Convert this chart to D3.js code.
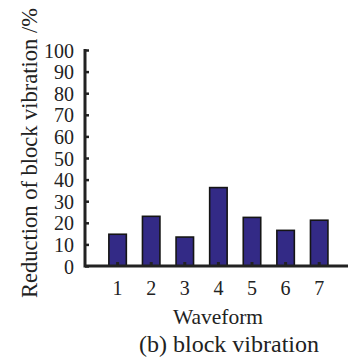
<!DOCTYPE html>
<html><head><meta charset="utf-8">
<script src="https://cdn.jsdelivr.net/npm/d3@7"></script>
<style>html,body{margin:0;padding:0;background:#fff;}svg{display:block;}</style>
</head><body>
<svg id="c" width="349" height="364"></svg>
<script>
const categories = ["1","2","3","4","5","6","7"];
const values = [14.7, 23.0, 13.4, 36.3, 22.5, 16.5, 21.2];
const yTicks = [0,10,20,30,40,50,60,70,80,90,100];
const xTitle = "Waveform";
const yTitle = "Reduction of block vibration /%";
const caption = "(b) block vibration";

const svg = d3.select("#c");
const font = "'Times New Roman', Times, Tinos, 'Nimbus Roman', 'Nimbus Roman No9 L', 'Liberation Serif', 'DejaVu Serif', 'Noto Serif', FreeSerif, 'Noto Serif CJK SC', serif";
const x0 = 85, xEnd = 348, yTop = 50, yBase = 266;

const x = d3.scaleBand().domain(categories).range([x0 - 1, x0 - 1 + 268.8]).paddingInner(0.48).paddingOuter(0.74);
const y = d3.scaleLinear().domain([0,100]).range([yBase, yTop]);

// bars
svg.append("g").selectAll("rect").data(values).join("rect")
  .attr("x", (d,i) => x(categories[i]))
  .attr("y", d => y(d))
  .attr("width", x.bandwidth())
  .attr("height", d => yBase - y(d))
  .attr("fill", "#332a86")
  .attr("stroke", "#151515")
  .attr("stroke-width", 1.6);

// y axis
const ya = svg.append("g").attr("transform", `translate(${x0},0)`)
  .call(d3.axisLeft(y).tickValues(yTicks).tickSize(-4).tickPadding(11).tickFormat(d3.format("d")));
ya.attr("font-family", null);
ya.select(".domain").remove();
ya.selectAll(".tick line").attr("stroke", "#222").attr("stroke-width", 2.5);
ya.selectAll("text").style("font-family", font).attr("font-size", 20).attr("fill", "#222").attr("dy", "0.35em");

// x axis
const xa = svg.append("g").attr("transform", `translate(0,${yBase})`)
  .call(d3.axisBottom(x).tickSize(-4).tickPadding(15));
xa.attr("font-family", null);
xa.select(".domain").remove();
xa.selectAll(".tick line").attr("stroke", "#222").attr("stroke-width", 3);
xa.selectAll("text").style("font-family", font).attr("font-size", 20).attr("fill", "#222");

// axis lines
svg.append("path")
  .attr("d", `M${x0},${yTop - 1}V${yBase}H${xEnd}`)
  .attr("fill", "none").attr("stroke", "#222").attr("stroke-width", 3);

// titles
svg.append("text").attr("x", 218).attr("y", 324).attr("text-anchor", "middle")
  .style("font-family", font).attr("font-size", 21.5).attr("fill", "#222").text(xTitle);
svg.append("text").attr("x", 229).attr("y", 352).attr("text-anchor", "middle")
  .style("font-family", font).attr("font-size", 24).attr("fill", "#222").text(caption);
svg.append("text").attr("transform", "translate(37,153) rotate(-90)").attr("text-anchor", "middle")
  .style("font-family", font).attr("font-size", 22.5).attr("fill", "#222").text(yTitle);
</script>
</body></html>
